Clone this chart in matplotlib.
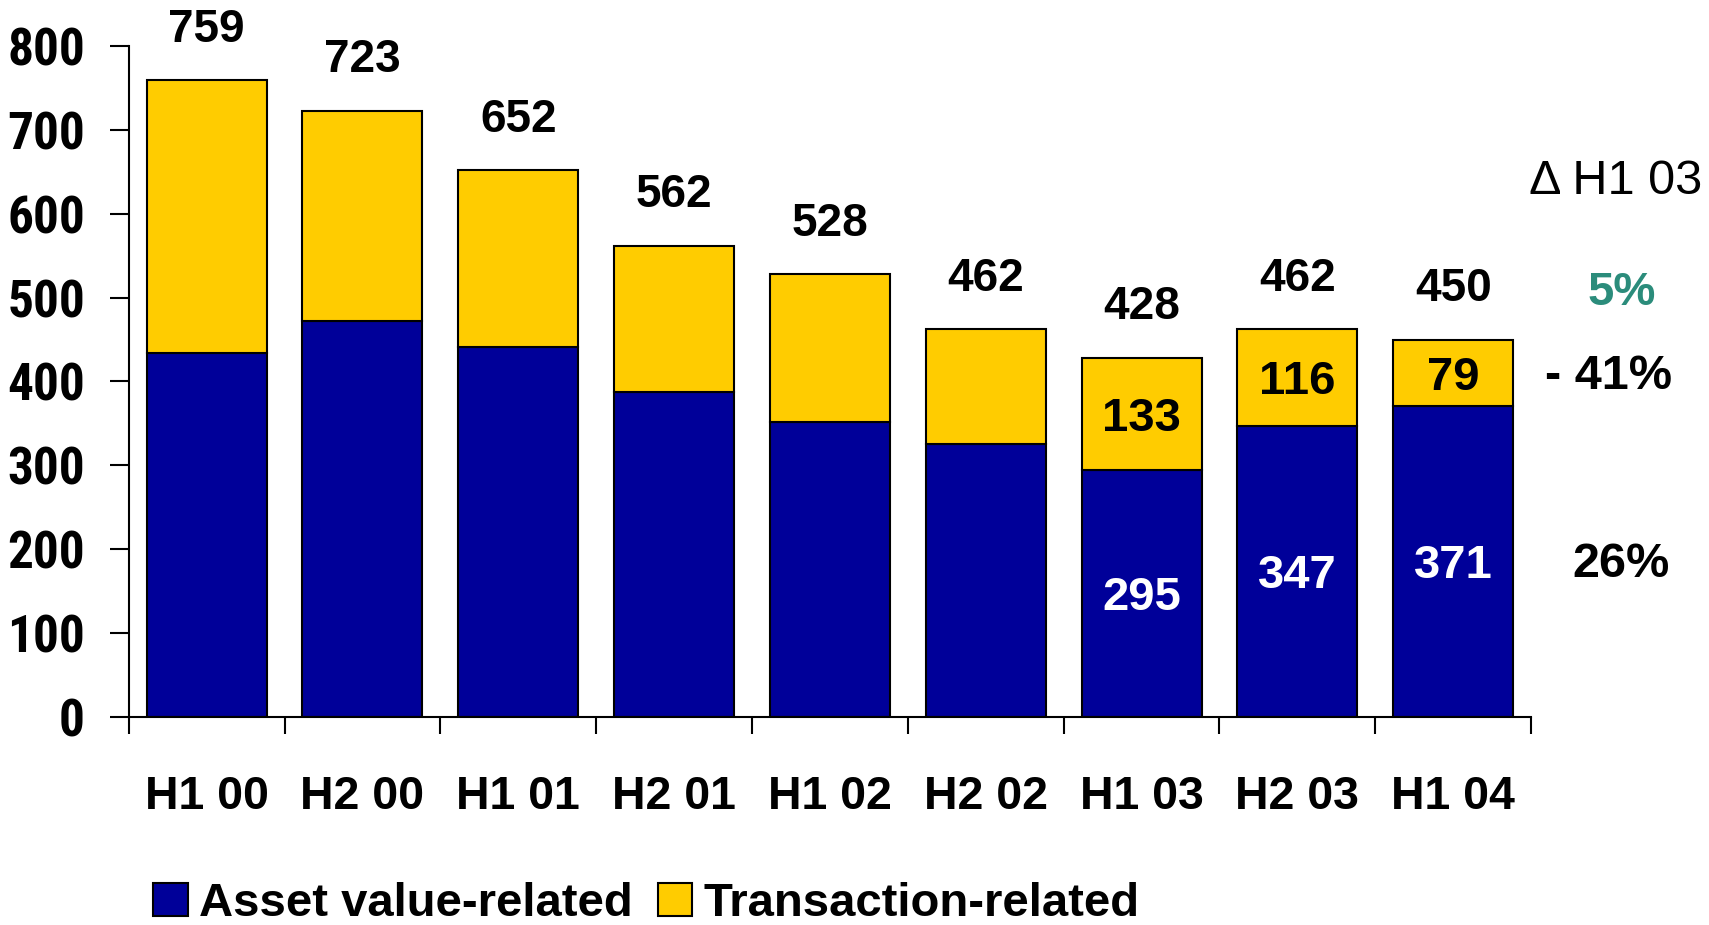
import numpy as np
import matplotlib
matplotlib.use('Agg')
import matplotlib.pyplot as plt
from matplotlib.patches import Patch

# Data
periods = ['H1 00', 'H2 00', 'H1 01', 'H2 01', 'H1 02', 'H2 02', 'H1 03', 'H2 03', 'H1 04']
asset = [434, 472, 441, 387, 352, 325, 295, 347, 371]
transaction = [325, 251, 211, 175, 176, 137, 133, 116, 79]
totals = [759, 723, 652, 562, 528, 462, 428, 462, 450]
labeled_periods = ['H1 03', 'H2 03', 'H1 04']

delta_title = '\u0394 H1 03'
delta_total = '5%'
delta_transaction = '- 41%'
delta_asset = '26%'

NAVY = '#000099'
YELLOW = '#FFCC00'
TEAL = '#2B8C7B'
SANS = ['Liberation Sans', 'DejaVu Sans']
NARROW = ['Roboto Condensed', 'Liberation Sans Narrow', 'Liberation Sans', 'DejaVu Sans']

plt.rcParams['font.family'] = SANS
plt.rcParams['font.weight'] = 'bold'

fig = plt.figure(figsize=(17.09, 9.25), dpi=100)
ax = fig.add_axes([0.0753, 0.2249, 0.8206, 0.7254])

x = np.arange(len(periods))
w = 0.77
ax.bar(x, asset, w, color=NAVY, edgecolor='black', linewidth=1.5, zorder=2)
ax.bar(x, transaction, w, bottom=asset, color=YELLOW, edgecolor='black', linewidth=1.5, zorder=2)

# totals above the bars
for xi, tot in zip(x, totals):
    ax.annotate(str(tot), (xi, tot), xytext=(0, 40), textcoords='offset points',
                ha='center', va='center_baseline', fontsize=33, fontweight='bold')

# segment values for the recent periods
for xi, p, a, t in zip(x, periods, asset, transaction):
    if p in labeled_periods:
        ax.text(xi, a / 2, str(a), ha='center', va='center_baseline', color='white',
                fontsize=34, fontweight='bold')
        ax.text(xi, a + t / 2, str(t), ha='center', va='center_baseline', color='black',
                fontsize=34, fontweight='bold')

ax.set_xlim(-0.5, len(periods) - 0.5)
ax.set_ylim(0, 800)
ax.set_yticks(range(0, 801, 100))
ax.tick_params(axis='y', labelsize=37, length=14, width=1.5, pad=17.5)
for lab in ax.get_yticklabels():
    lab.set_fontfamily(NARROW)

ax.set_xticks(x)
ax.set_xticklabels(periods)
ax.set_xticks(np.arange(-0.5, len(periods), 1), minor=True)
ax.tick_params(axis='x', which='major', length=0, labelsize=33.5, pad=42)
ax.tick_params(axis='x', which='minor', length=12, width=1.5)

for s in ['top', 'right']:
    ax.spines[s].set_visible(False)
for s in ['left', 'bottom']:
    ax.spines[s].set_linewidth(1.5)

# change vs H1 03 on the right
fig.text(0.9456, 0.8040, delta_title, ha='center', va='center', fontsize=35,
         fontweight='normal')
fig.text(0.949, 0.6830, delta_total, ha='center', va='center', fontsize=34,
         fontweight='bold', color=TEAL)
fig.text(0.941, 0.5925, delta_transaction, ha='center', va='center', fontsize=35,
         fontweight='bold')
fig.text(0.9485, 0.3900, delta_asset, ha='center', va='center', fontsize=35,
         fontweight='bold')

handles = [Patch(facecolor=NAVY, edgecolor='black', linewidth=1.5, label='Asset value-related'),
           Patch(facecolor=YELLOW, edgecolor='black', linewidth=1.5, label='Transaction-related')]
fig.legend(handles=handles, loc='center left', bbox_to_anchor=(0.0895, 0.023), ncol=2,
           frameon=False, fontsize=34, handlelength=0.74, handleheight=0.7,
           handletextpad=0.23, columnspacing=0.53, borderpad=0, borderaxespad=0)

fig.savefig('out.png', dpi=100)
